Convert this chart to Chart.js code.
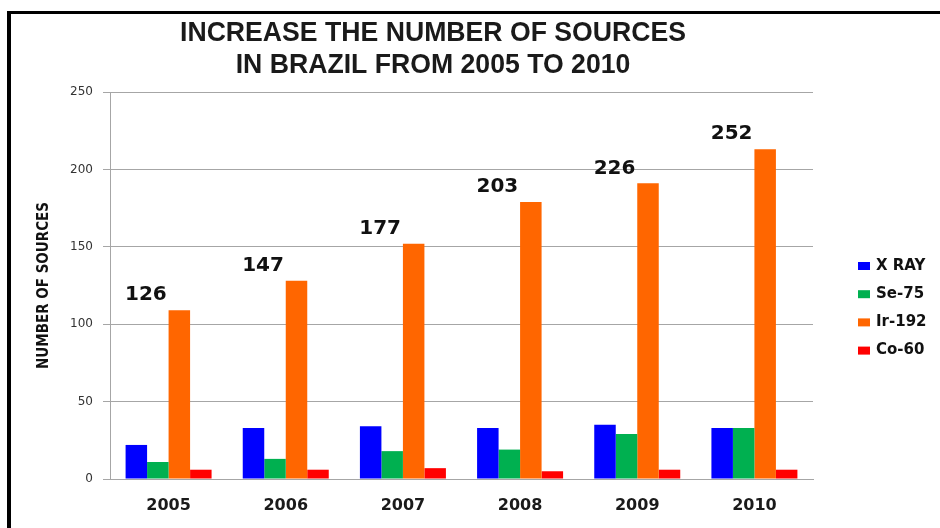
<!DOCTYPE html>
<html>
<head>
<meta charset="utf-8">
<script src="https://cdn.jsdelivr.net/npm/chart.js@4.4.0/dist/chart.umd.min.js"></script>
<style>
  html, body { margin: 0; padding: 0; background: #fff; }
  #wrap { position: relative; width: 940px; height: 528px; overflow: hidden; }
  #frame { position: absolute; left: 7px; top: 11px; right: -10px; bottom: -10px;
           border-top: 3px solid #000; border-left: 4px solid #000; pointer-events: none; }
</style>
</head>
<body>
<div id="wrap">
  <canvas id="chart" width="940" height="528"></canvas>
  <div id="frame"></div>
</div>
<script>
// data
const years = ['2005', '2006', '2007', '2008', '2009', '2010'];
const xRay = [22, 33, 34, 33, 35, 33];
const se75 = [11, 13, 18, 19, 29, 33];
const ir192 = [109, 128, 152, 179, 191, 213];
const co60 = [6, 6, 7, 5, 6, 6];
const totals = [126, 147, 177, 203, 226, 252];
const titleLines = ['INCREASE THE NUMBER OF SOURCES', 'IN BRAZIL FROM 2005 TO 2010'];

const seriesNames = ['X RAY', 'Se-75', 'Ir-192', 'Co-60'];
const seriesColors = ['#0000ff', '#00b050', '#ff6600', '#ff0000'];
const seriesValues = [xRay, se75, ir192, co60];

const gridColor = '#a6a6a6';

//title drawn by hand so it can sit off-centre like the original,
//squeezed horizontally to look like the narrow original face
const titlePlugin = {
  id: 'bigTitle',
  afterDraw(chart) {
    const ctx = chart.ctx;
    ctx.save();
    ctx.fillStyle = '#1a1a1a';
    ctx.font = 'bold 28px "Liberation Sans", Arial, sans-serif';
    ctx.textAlign = 'center';
    ctx.textBaseline = 'middle';
    const squeeze = 506 / ctx.measureText(titleLines[0]).width;
    ctx.translate(433, 0);
    ctx.scale(squeeze, 1);
    ctx.fillText(titleLines[0], 0, 33);
    ctx.fillText(titleLines[1], 0, 65);
    ctx.restore();
  }
};

//totals written above each year group
const totalsPlugin = {
  id: 'totals',
  afterDatasetsDraw(chart) {
    const ctx = chart.ctx;
    const greenMeta = chart.getDatasetMeta(1);
    const orangeMeta = chart.getDatasetMeta(2);
    ctx.save();
    ctx.fillStyle = '#111';
    ctx.font = 'bold 20px "DejaVu Sans", Verdana, sans-serif';
    ctx.textAlign = 'center';
    ctx.textBaseline = 'middle';
    for (let i = 0; i < totals.length; i++) {
      const x = greenMeta.data[i].x - 12;
      const y = orangeMeta.data[i].y - 15;
      ctx.fillText(totals[i].toString(), x, y);
    }
    ctx.restore();
  }
};

//legend on the right, away from the plot
const legendPlugin = {
  id: 'sideLegend',
  afterDraw(chart) {
    const ctx = chart.ctx;
    ctx.save();
    ctx.font = 'bold 15px "DejaVu Sans", Verdana, sans-serif';
    ctx.textBaseline = 'middle';
    ctx.textAlign = 'left';
    chart.data.datasets.forEach((ds, i) => {
      const cy = 266 + i * 28.2;
      ctx.fillStyle = ds.backgroundColor;
      ctx.fillRect(858, cy - 4, 12, 8);
      ctx.fillStyle = '#111';
      ctx.fillText(ds.label, 876, cy);
    });
    ctx.restore();
  }
};

let datasets = [];
for (let i = 0; i < seriesNames.length; i++) {
  datasets.push({
    label: seriesNames[i],
    data: seriesValues[i],
    backgroundColor: seriesColors[i],
    borderWidth: 0,
    categoryPercentage: 0.734,
    barPercentage: 1.0,
  });
}

const config = {
  type: 'bar',
  data: {
    labels: years,
    datasets: datasets,
  },
  options: {
    responsive: false,
    animation: false,
    devicePixelRatio: 1,
    layout: {
      padding: { left: 20, right: 127, top: 92, bottom: 0 }
    },
    plugins: {
      legend: { display: false },
      title: { display: false },
      tooltip: { enabled: false },
    },
    scales: {
      x: {
        afterFit(scale) { scale.height = 49; },
        grid: { display: false, drawTicks: false },
        border: { display: true, color: gridColor, width: 1 },
        ticks: {
          color: '#1a1a1a',
          padding: 17,
          font: { family: '"DejaVu Sans", Verdana, sans-serif', size: 16, weight: 'bold' },
        },
      },
      y: {
        min: 0,
        max: 250,
        afterFit(scale) { scale.width = 90; },
        ticks: {
          stepSize: 50,
          color: '#333',
          padding: 10,
          font: { family: '"DejaVu Sans", Verdana, sans-serif', size: 12 },
        },
        grid: { color: gridColor, lineWidth: 1, tickLength: 7, drawTicks: true },
        border: { display: true, color: gridColor, width: 1 },
        title: {
          display: true,
          text: 'NUMBER OF SOURCES',
          color: '#111',
          padding: { top: 15, bottom: 0 },
          font: { family: '"DejaVu Sans Condensed", sans-serif', size: 15, weight: 'bold' },
        },
      },
    },
  },
  plugins: [titlePlugin, totalsPlugin, legendPlugin],
};

const chart = new Chart(document.getElementById('chart'), config);
</script>
</body>
</html>
